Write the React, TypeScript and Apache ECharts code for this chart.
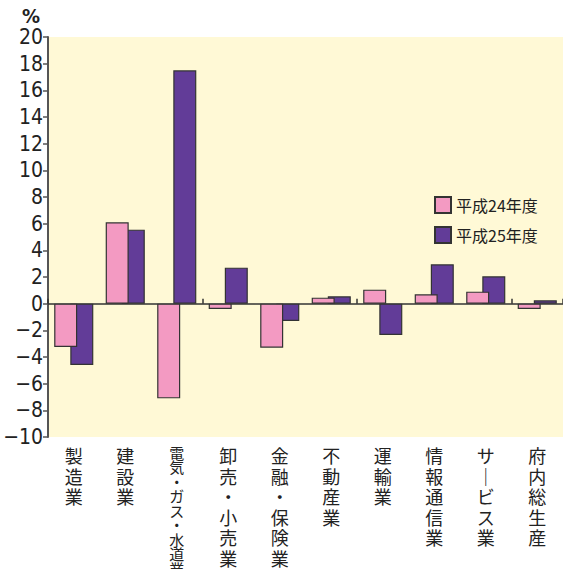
import React, { useEffect, useRef } from "react";
import * as echarts from "echarts";

const categories = [
  "製造業",
  "建設業",
  "電気・ガス・水道業",
  "卸売・小売業",
  "金融・保険業",
  "不動産業",
  "運輸業",
  "情報通信業",
  "サービス業",
  "府内総生産",
];
const seriesNames = ["平成24年度", "平成25年度"];
const h24 = [-3.25, 6.1, -7.1, -0.4, -3.3, 0.45, 1.05, 0.7, 0.9, -0.4];
const h25 = [-4.6, 5.55, 17.5, 2.7, -1.3, 0.55, -2.35, 2.95, 2.05, 0.25];
const yMin = -10;
const yMax = 20;
const yStep = 2;

const FONT = "'Liberation Sans Narrow', 'DejaVu Sans Condensed', 'Noto Sans CJK JP', sans-serif";
const CJK = "'Noto Sans CJK JP', sans-serif";

export default function App() {
  const ref = useRef<HTMLDivElement>(null);
  useEffect(() => {
    const chart = echarts.init(ref.current!, undefined, { renderer: "svg" });
    chart.setOption({
      animation: false,
      backgroundColor: "#ffffff",
      grid: {
        left: 48,
        right: 0,
        top: 37,
        bottom: 132,
        show: true,
        containLabel: false,
        outerBoundsMode: "none",
        backgroundColor: "#FFF9D6",
        borderWidth: 0,
      },
      legend: {
        orient: "vertical",
        left: 429,
        top: 191,
        itemWidth: 16,
        itemHeight: 16,
        itemGap: 12,
        icon: "rect",
        data: seriesNames,
        textStyle: { fontFamily: CJK, fontSize: 16, color: "#222" },
      },
      graphic: [
        {
          type: "text",
          left: 22,
          top: 6,
          style: { text: "%", fontFamily: FONT, fontSize: 20, fill: "#222", fontWeight: "bold" },
        },
      ],
      xAxis: [
        {
          type: "category",
          data: categories,
          position: "bottom",
          axisLine: { show: false, onZero: false },
          axisTick: { show: false },
          axisLabel: {
            interval: 0,
            margin: 8,
            fontFamily: CJK,
            fontSize: 18,
            color: "#222",
            verticalAlign: "top",
            hideOverlap: false,
            rich: {
              n: { fontFamily: CJK, fontSize: 18, lineHeight: 20.5, color: "#222" },
              s: { fontFamily: CJK, fontSize: 15, lineHeight: 14.5, color: "#222" },
            },
            formatter: (v: string) => {
              const tag = v.length > 7 ? "s" : "n";
              return v
                .split("")
                .map((c) => `{${tag}|${c === "ー" ? "｜" : c}}`)
                .join("\n");
            },
          },
        },
        {
          type: "category",
          data: categories,
          position: "bottom",
          axisLine: { show: true, onZero: true, lineStyle: { color: "#333", width: 1.5 } },
          axisTick: { show: true, inside: true, length: 5, lineStyle: { color: "#333", width: 1.5 } },
          axisLabel: { show: false },
        },
      ],
      yAxis: {
        type: "value",
        min: yMin,
        max: yMax,
        interval: yStep,
        splitLine: { show: false },
        axisLine: { show: true, lineStyle: { color: "#555", width: 2 } },
        axisTick: { show: true, length: 5, lineStyle: { color: "#555", width: 1.5 } },
        axisLabel: {
          fontFamily: FONT,
          fontSize: 21,
          color: "#222",
          margin: 5,
          formatter: (v: number) => String(v).replace("-", "−"),
        },
      },
      series: [
        {
          name: seriesNames[0],
          type: "bar",
          data: h24,
          xAxisIndex: 0,
          barWidth: 23,
          barGap: "-30%",
          z: 3,
          itemStyle: { color: "#F39AC2", borderColor: "#333", borderWidth: 1.2 },
        },
        {
          name: seriesNames[1],
          type: "bar",
          data: h25,
          xAxisIndex: 0,
          barWidth: 23,
          barGap: "-30%",
          z: 2,
          itemStyle: { color: "#623C98", borderColor: "#333", borderWidth: 1.2 },
        },
      ],
    });
    return () => chart.dispose();
  }, []);
  return (
    <div
      ref={ref}
      style={{ position: "fixed", left: 0, top: 0, width: 563, height: 569 }}
    />
  );
}
